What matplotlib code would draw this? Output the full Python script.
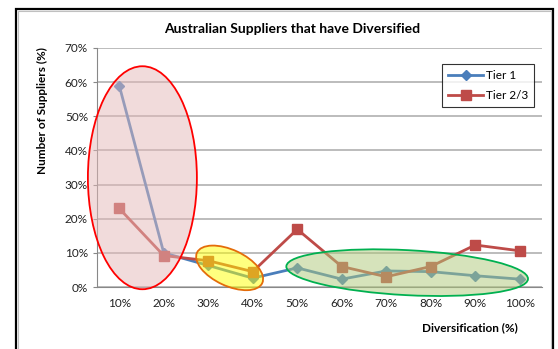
import matplotlib
matplotlib.use('Agg')
import matplotlib.pyplot as plt
import matplotlib.patches as mpatches
import matplotlib.transforms as mtrans

plt.rcParams['font.family'] = ['Lato', 'DejaVu Sans']

categories = ['10%', '20%', '30%', '40%', '50%', '60%', '70%', '80%', '90%', '100%']
tier1 = [59.0, 10.0, 6.3, 2.6, 5.6, 2.3, 4.7, 4.5, 3.3, 2.3]
tier23 = [23.0, 9.2, 7.7, 4.5, 16.9, 6.0, 3.0, 6.0, 12.3, 10.6]
yticks = [0, 10, 20, 30, 40, 50, 60, 70]

fig = plt.figure(figsize=(5.58, 3.49), dpi=100)
ax = fig.add_axes([97/558, 1-287/349, 445/558, 239/349])

x = range(len(categories))
ax.plot(x, tier1, color='#4a7ebb', lw=2.0, marker='D', ms=5, label='Tier 1', zorder=3)
ax.plot(x, tier23, color='#be4b48', lw=2.0, marker='s', ms=6.5, label='Tier 2/3', zorder=3)

ax.set_xlim(-0.5, 9.5)
ax.set_ylim(0, 70)
ax.set_yticks(yticks)
ax.set_yticklabels([f'{v}%' for v in yticks])
ax.set_xticks(list(x))
ax.set_xticklabels(categories)
ax.tick_params(axis='both', labelsize=8.5, colors='#222222', length=3, color='#888888')
ax.tick_params(axis='x', length=0, pad=8)
ax.grid(axis='y', color='#b0b0b0', lw=1.2)
ax.set_axisbelow(True)
for s in ['top', 'right']:
    ax.spines[s].set_visible(False)
for s in ['left', 'bottom']:
    ax.spines[s].set_color('#888888')

# annotation ellipses (sizes in pixels, centres in data coords)
def ellipse(cx, cy, w, h, ang, fc, ec):
    tr = fig.dpi_scale_trans + mtrans.ScaledTranslation(cx, cy, ax.transData)
    e = mpatches.Ellipse((0, 0), w/100, h/100, angle=ang, transform=tr,
                         facecolor=fc, edgecolor=ec, lw=1.3, zorder=4, clip_on=False)
    ax.add_artist(e)

ellipse(0.52, 32.0, 109, 223, 0, (229/255, 185/255, 184/255, 0.5), '#ff0000')
ellipse(2.48, 5.6, 72, 36, -25, (1, 1, 0, 0.5), '#e46c0a')
ellipse(6.47, 4.2, 242, 45, -3, (175/255, 201/255, 121/255, 0.5), '#00b050')

leg = ax.legend(loc='upper left', bbox_to_anchor=(339/445, 1-10/239), fontsize=8.5,
                frameon=True, fancybox=False, edgecolor='black', handlelength=3.0,
                handletextpad=0.2, borderpad=0.5, labelspacing=0.8)
leg.get_frame().set_linewidth(0.8)

fig.text(292/558, 1-29/349, 'Australian Suppliers that have Diversified',
         ha='center', va='center', fontsize=10, fontweight='bold')
fig.text(42/558, 1-111/349, 'Number of Suppliers (%)', rotation=90,
         ha='center', va='center', fontsize=8.5, fontweight='bold')
fig.text(518/558, 1-328/349, 'Diversification (%)', ha='right', va='center',
         fontsize=8.5, fontweight='bold')

# chart frame
fig.add_artist(mpatches.Rectangle((16/558, -0.1), 537/558, 1.1-9/349,
                                  transform=fig.transFigure, fill=False,
                                  edgecolor='black', lw=1.6))
fig.add_artist(mpatches.Rectangle((18/558, -0.1), 533/558, 1.1-11/349,
                                  transform=fig.transFigure, fill=False,
                                  edgecolor='#c0c0c0', lw=0.8))

fig.savefig('out.png', dpi=100)
